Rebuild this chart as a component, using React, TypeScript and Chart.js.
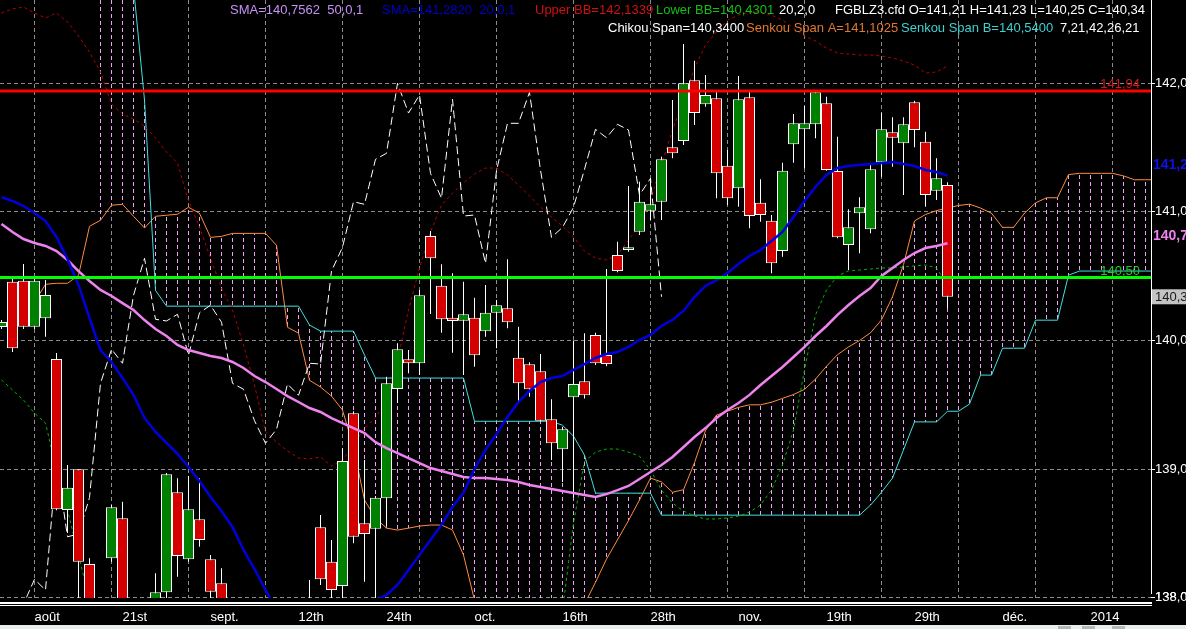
import React, { useEffect, useRef } from "react";
import { Chart, registerables } from "chart.js";

Chart.register(...registerables);

// ---------- data (slot -1 is the first element of every per-slot array) ----------
const FIRST_SLOT = -1;

const opens = [
  140.105, 140.457, 140.465, 140.107, 140.173, 139.856, 138.682, 138.998, 138.262, 137.90,
  138.306, 138.617, 137.95, 137.70, 137.85, 138.042, 138.820, 138.299, 138.610, 138.299,
  138.112, 137.90, 137.60, 137.70, 137.55, 137.40, 137.50, 137.70, 137.90, 138.547,
  138.280, 138.091, 139.434, 138.579, 138.537, 138.773, 139.623, 139.854, 139.823, 140.813,
  140.426, 140.177, 140.154, 140.177, 140.072, 140.216, 140.250, 139.866, 139.815, 139.760,
  139.387, 139.154, 139.558, 139.683, 140.043, 139.887, 140.665, 140.704, 140.846, 141.009,
  141.079, 141.502, 141.551, 142.023, 141.837, 141.883, 141.359, 141.184, 141.891, 141.072,
  140.932, 140.696, 141.526, 141.642, 141.681, 141.844, 141.318, 140.743, 140.989, 140.865,
  141.386, 141.619, 141.533, 141.852, 141.546, 141.165, 141.21,
];
const highs = [
  140.16, 140.486, 140.595, 140.48, 140.47, 139.903, 139.032, 139.0, 138.306, 137.97,
  138.72, 138.746, 137.98, 137.90, 138.19, 138.97, 138.928, 138.946, 138.928, 138.332,
  138.23, 137.95, 137.80, 137.90, 137.70, 137.60, 137.80, 137.95, 138.138, 138.643,
  138.449, 139.162, 139.45, 139.071, 138.79, 139.719, 139.978, 139.926, 140.393, 140.851,
  140.593, 140.523, 140.457, 140.333, 140.432, 140.315, 140.631, 140.107, 139.83, 139.895,
  139.543, 139.33, 140.0, 140.056, 140.06, 140.556, 140.768, 141.201, 141.235, 141.261,
  141.429, 141.87, 142.306, 142.176, 142.065, 141.948, 141.481, 142.057, 141.935, 141.254,
  140.976, 141.383, 141.761, 141.823, 141.935, 141.896, 141.585, 141.02, 141.114, 141.378,
  141.771, 141.736, 141.736, 141.865, 141.624, 141.417, 141.23,
];
const lows = [
  140.09, 139.911, 140.09, 140.09, 140.03, 138.68, 138.503, 137.95, 137.8, 137.55,
  138.28, 137.9, 137.6, 137.5, 137.8, 137.99, 138.163, 138.28, 138.397, 137.98,
  137.8, 137.5, 137.4, 137.5, 137.3, 137.3, 137.4, 137.6, 137.8, 138.099,
  137.97, 137.98, 138.423, 138.124, 137.99, 138.558, 139.514, 139.745, 139.732, 140.206,
  140.061, 139.905, 139.732, 139.796, 140.03, 139.939, 140.095, 139.512, 139.563, 139.37,
  139.071, 138.9, 138.78, 139.55, 139.81, 139.8, 140.53, 140.69, 140.82, 140.937,
  140.937, 141.417, 141.52, 141.676, 141.818, 141.106, 141.054, 141.04, 140.872, 140.924,
  140.523, 140.652, 141.383, 141.339, 141.572, 141.32, 140.795, 140.548, 140.678, 140.834,
  141.274, 141.351, 141.131, 141.502, 141.04, 141.093, 140.25,
];
const closes = [
  140.144, 139.939, 140.107, 140.465, 140.354, 138.687, 138.855, 138.28, 137.9, 137.65,
  138.703, 137.99, 137.7, 137.85, 138.042, 138.96, 138.324, 138.687, 138.449, 138.047,
  137.9, 137.6, 137.7, 137.55, 137.4, 137.5, 137.7, 137.9, 137.95, 138.143,
  138.06, 139.063, 138.474, 138.495, 138.778, 139.667, 139.932, 139.823, 140.351, 140.639,
  140.165, 140.152, 140.204, 139.885, 140.216, 140.274, 140.142, 139.667, 139.621, 139.376,
  139.201, 139.309, 139.662, 139.574, 139.823, 139.817, 140.54, 140.725, 141.079, 141.059,
  141.409, 141.456, 142.0, 141.769, 141.909, 141.3, 141.106, 141.876, 140.968, 140.976,
  140.6, 141.32, 141.689, 141.689, 141.93, 141.326, 140.802, 140.88, 141.036, 141.331,
  141.642, 141.577, 141.681, 141.637, 141.131, 141.261, 140.34,
];

const sma50 = [
  140.906, 140.844, 140.789, 140.758, 140.735, 140.696, 140.626, 140.540, 140.463, 140.393,
  140.346, 140.291, 140.237, 140.159, 140.089, 140.035, 139.965, 139.926, 139.903, 139.879,
  139.864, 139.833, 139.786, 139.724, 139.677, 139.623, 139.568, 139.522, 139.475, 139.444,
  139.397, 139.358, 139.319, 139.280, 139.210, 139.164, 139.125, 139.086, 139.047, 139.008,
  138.985, 138.962, 138.938, 138.931, 138.931, 138.923, 138.915, 138.900, 138.876, 138.861,
  138.845, 138.830, 138.814, 138.799, 138.783, 138.806, 138.837, 138.869, 138.923, 138.977,
  139.032, 139.094, 139.172, 139.250, 139.319, 139.397, 139.460, 139.514, 139.577, 139.654,
  139.724, 139.794, 139.872, 139.950, 140.035, 140.113, 140.199, 140.276, 140.346, 140.408,
  140.502, 140.564, 140.626, 140.680, 140.719, 140.735, 140.756,
];
const sma20 = [
  141.114, 141.085, 141.046, 140.992, 140.929, 140.805, 140.634, 140.432, 140.175, 139.926,
  139.833, 139.709, 139.577, 139.398, 139.289, 139.204, 139.118, 139.017, 138.907, 138.783,
  138.674, 138.550, 138.371, 138.223, 138.060, 137.904, 137.79, 137.71, 137.67, 137.67,
  137.71, 137.76, 137.84, 137.92, 137.98, 138.021, 138.099, 138.216, 138.333, 138.449,
  138.566, 138.706, 138.815, 139.001, 139.149, 139.273, 139.406, 139.522, 139.607, 139.677,
  139.708, 139.724, 139.771, 139.817, 139.864, 139.895, 139.911, 139.950, 140.004, 140.043,
  140.113, 140.160, 140.230, 140.339, 140.424, 140.470, 140.525, 140.595, 140.657, 140.704,
  140.774, 140.844, 140.961, 141.085, 141.194, 141.287, 141.341, 141.357, 141.365, 141.372,
  141.380, 141.388, 141.372, 141.357, 141.326, 141.310, 141.282,
];
const upperBB = [
  142.547, 142.578, 142.593, 142.547, 142.508, 142.547, 142.477, 142.368, 142.243, 142.088,
  141.839, 141.761, 141.722, 141.668, 141.575, 141.466, 141.380, 141.085, 140.883, 140.641,
  140.408, 140.237, 139.965, 139.654, 139.289, 139.211, 139.141, 139.087, 139.079, 139.094,
  139.024, 139.071, 139.187, 139.320, 139.397, 139.537, 139.848, 140.237, 140.563, 140.843,
  141.053, 141.147, 141.225, 141.295, 141.341, 141.341, 141.287, 141.209, 141.124, 141.038,
  140.960, 140.890, 140.805, 140.696, 140.641, 140.626, 140.665, 140.781, 140.898, 141.093,
  141.365, 141.637, 141.870, 142.119, 142.298, 142.399, 142.492, 142.531, 142.554, 142.554,
  142.531, 142.492, 142.430, 142.368, 142.329, 142.274, 142.236, 142.228, 142.220, 142.220,
  142.212, 142.197, 142.173, 142.142, 142.080, 142.088, 142.134,
];
const lowerBB = [
  139.694, 139.615, 139.537, 139.436, 139.358, 138.993, 138.682, 138.332, 137.98, 137.7,
  null, null, null, null, null, null, null, null, null, null,
  null, null, null, null, null, null, null, null, null, null,
  null, null, null, null, null, null, null, null, null, null,
  null, null, null, null, null, null, null, null, null, null,
  null, 137.9, 138.58, 139.06, 139.132, 139.156, 139.156, 139.132, 139.101, 138.993,
  138.837, 138.736, 138.674, 138.635, 138.612, 138.612, 138.620, 138.635, 138.666, 138.721,
  138.837, 139.032, 139.304, 139.771, 140.199, 140.393, 140.502, 140.541, 140.548, 140.556,
  140.564, 140.564, 140.572, 140.580, 140.587, 140.564, 140.430,
];
const senkouA = [
  140.118, 140.103, 140.173, 140.297, 140.437, 140.445, 140.445, 140.507, 140.888, 140.935,
  141.052, 141.059, 140.966, 140.875, 140.966, 140.974, 140.982, 141.036, 140.989, 140.802,
  140.810, 140.833, 140.833, 140.833, 140.833, 140.740, 140.103, 140.057, 139.691, 139.638,
  139.568, 139.459, 139.171, 138.759, 138.619, 138.541, 138.526, 138.541, 138.557, 138.565,
  138.565, 138.526, 138.332, 137.98, 137.80, 137.70, 137.62, 137.60, 137.60, 137.62,
  137.68, 137.75, 137.85, 137.95, 138.12, 138.30, 138.45, 138.60, 138.76, 138.93,
  138.90, 138.82, 138.84, 139.05, 139.30, 139.42, 139.45, 139.48, 139.50, 139.50,
  139.52, 139.55, 139.58, 139.62, 139.70, 139.80, 139.89, 139.95, 140.00, 140.06,
  140.16, 140.34, 140.59, 140.93, 140.98, 141.01, 141.03, 141.05, 141.06, 141.03,
  140.99, 140.88, 140.88, 140.99, 141.07, 141.11, 141.11, 141.29, 141.30, 141.30,
  141.30, 141.30, 141.28, 141.25, 141.25, 141.25,
];
const senkouB = [
  null, null, null, null, null, null, null, null, null, 143.5,
  143.5, 143.4, 142.75, 141.87, 140.39, 140.267, 140.267, 140.267, 140.267, 140.267,
  140.267, 140.267, 140.267, 140.267, 140.267, 140.267, 140.267, 140.267, 140.12, 140.073,
  140.073, 140.073, 140.073, 139.887, 139.708, 139.708, 139.708, 139.708, 139.708, 139.708,
  139.708, 139.708, 139.708, 139.372, 139.372, 139.372, 139.372, 139.372, 139.372, 139.372,
  139.372, 139.341, 139.256, 139.108, 138.813, 138.813, 138.813, 138.813, 138.813, 138.813,
  138.642, 138.642, 138.642, 138.642, 138.642, 138.642, 138.642, 138.642, 138.642, 138.642,
  138.642, 138.642, 138.642, 138.642, 138.642, 138.642, 138.642, 138.642, 138.642, 138.72,
  138.82, 138.93, 139.15, 139.367, 139.367, 139.367, 139.45, 139.45, 139.506, 139.731,
  139.731, 139.94, 139.94, 139.94, 140.158, 140.158, 140.158, 140.508, 140.54, 140.54,
  140.54, 140.54, 140.54, 140.54, 140.54, 140.54,
];
const CHIKOU_SHIFT = 26;

const resistanceLevel = 141.94;
const supportLevel = 140.49;
const resistanceText = "141,94";
const supportText = "140,50";

const priceTicks = [138, 139, 140, 141, 142];
const priceTickLabels = ["138,0", "139,0", "140,0", "141,0", "142,0"];
const gridSlots = [2, 9, 16, 23, 30, 37, 44, 51, 58, 65, 72, 79, 86, 93, 100];
const dateSlots = [2, 10, 18, 26, 34, 42, 50, 58, 66, 74, 82, 90, 98];
const dateLabels = ["août", "21st", "sept.", "12th", "24th", "oct.", "16th", "28th", "nov.", "19th", "29th", "déc.", "2014"];

const tagTexts = ["141,2", "140,7", "140,34"];
const tagValues = [141.36, 140.81, 140.34];

const legendRow1 = ["SMA=140,7562  50,0,1", "SMA=141,2820  20,0,1", "Upper BB=142,1339", "Lower BB=140,4301", "20,2,0", "FGBLZ3.cfd O=141,21 H=141,23 L=140,25 C=140,34"];
const legendRow2 = ["Chikou Span=140,3400", "Senkou Span A=141,1025", "Senkou Span B=140,5400", "7,21,42,26,21"];

// ---------- layout / style ----------
const W = 1186;
const H = 629;
const PLOT_RIGHT = 1151;
const PLOT_BOTTOM = 598;
const SLOT_PX = 11;
const FIRST_CENTER_PX = 12.5;
const X_MIN = -FIRST_CENTER_PX / SLOT_PX;
const X_MAX = (PLOT_RIGHT - FIRST_CENTER_PX) / SLOT_PX;
const Y_MAX = 142.6478;
const Y_MIN = 137.9977;

const FONT = '"Liberation Sans", Arial, sans-serif';
const legendRow1Colors = ["#c890f8", "#0000c8", "#d01010", "#10c010", "#ffffff", "#ffffff"];
const legendRow1X = [230, 382, 535, 656, 779, 835];
const legendRow2Colors = ["#ffffff", "#e07830", "#40d0d0", "#ffffff"];
const legendRow2X = [608, 746, 901, 1060];
const tagColors = ["#1010e8", "#f080f0", "#1a1a1a"];

const UP = "#008000";
const DOWN = "#d40000";
const CLOUD = "#f0a0f0";

export default function App() {
  const ref = useRef<HTMLCanvasElement | null>(null);

  useEffect(() => {
    document.body.style.margin = "0";
    document.body.style.background = "#000";
    const canvas = ref.current!;

    const pc = document.createElement("canvas");
    pc.width = 1;
    pc.height = 7;
    const pctx = pc.getContext("2d")!;
    pctx.fillStyle = CLOUD;
    pctx.fillRect(0, 0, 1, 4);
    const cloudPattern = canvas.getContext("2d")!.createPattern(pc, "repeat");

    const slot = (k: number) => FIRST_SLOT + k;

    const bodies = opens.map((o, k) => ({ x: slot(k), y: [o, closes[k]] }));
    const bodyColors = opens.map((o, k) => (closes[k] >= o ? UP : DOWN));
    const wicks = lows.map((l, k) => ({ x: slot(k), y: [l, highs[k]] }));
    const cloud: { x: number; y: number[] }[] = [];
    senkouA.forEach((a, k) => {
      const b = senkouB[k];
      if (a !== null && b !== null) cloud.push({ x: slot(k), y: [a, b] });
    });
    const chikou = closes.slice(CHIKOU_SHIFT).map((c, k) => ({ x: slot(k), y: c }));

    const series = (values: (number | null)[]) => values.map((v, k) => ({ x: slot(k), y: v }));
    const line = (data: any[], color: string, width: number, dash: number[], order: number) => ({
      type: "line" as const,
      data,
      borderColor: color,
      borderWidth: width,
      borderDash: dash,
      pointRadius: 0,
      pointHoverRadius: 0,
      fill: false,
      tension: 0,
      spanGaps: false,
      order,
    });
    const level = (v: number) => [
      { x: X_MIN, y: v },
      { x: X_MAX, y: v },
    ];

    const overlay = {
      id: "overlay",
      beforeDraw(chart: any) {
        const c = chart.ctx;
        c.save();
        c.fillStyle = "#000";
        c.fillRect(0, 0, W, H);
        c.restore();
      },
      beforeDatasetsDraw(chart: any) {
        const c = chart.ctx;
        const xs = chart.scales.x;
        const ys = chart.scales.y;
        const a = chart.chartArea;
        c.save();
        c.strokeStyle = "#8c8c8c";
        c.lineWidth = 1;
        c.setLineDash([4, 3]);
        priceTicks.forEach((v) => {
          const y = Math.floor(ys.getPixelForValue(v)) + 0.5;
          c.beginPath();
          c.moveTo(a.left, y);
          c.lineTo(a.right, y);
          c.stroke();
        });
        gridSlots.forEach((s) => {
          const x = xs.getPixelForValue(s);
          c.beginPath();
          c.moveTo(x, a.top);
          c.lineTo(x, a.bottom);
          c.stroke();
        });
        c.restore();
      },
      afterDraw(chart: any) {
        const c = chart.ctx;
        const xs = chart.scales.x;
        const ys = chart.scales.y;
        c.save();
        // right axis
        c.fillStyle = "#ffffff";
        c.fillRect(PLOT_RIGHT, 0, 1, PLOT_BOTTOM - 4);
        c.font = `13px ${FONT}`;
        c.textBaseline = "middle";
        c.textAlign = "left";
        priceTicks.forEach((v, i) => {
          const y = Math.floor(ys.getPixelForValue(v));
          c.fillStyle = "#ffffff";
          c.fillRect(PLOT_RIGHT, y, 4, 1);
          c.fillText(priceTickLabels[i], PLOT_RIGHT + 4, y + 0.5);
        });
        // value tags
        tagTexts.forEach((t, i) => {
          const y = ys.getPixelForValue(tagValues[i]);
          if (i === 2) {
            c.fillStyle = "#c4c4c4";
            c.fillRect(PLOT_RIGHT + 1, y - 7.5, W - PLOT_RIGHT, 15);
            c.font = `13px ${FONT}`;
            c.fillStyle = tagColors[i];
            c.fillText(t, PLOT_RIGHT + 4, y + 0.5);
          } else {
            c.font = `bold 14px ${FONT}`;
            c.fillStyle = tagColors[i];
            c.fillText(t, PLOT_RIGHT + 2, y);
          }
        });
        // level labels
        c.font = `13px ${FONT}`;
        c.textAlign = "right";
        c.textBaseline = "alphabetic";
        c.fillStyle = "#d01818";
        c.fillText(resistanceText, 1140, ys.getPixelForValue(resistanceLevel) - 3);
        c.fillStyle = "#20d020";
        c.fillText(supportText, 1140, ys.getPixelForValue(supportLevel) - 2);
        // bottom band
        c.fillStyle = "#000";
        c.fillRect(0, PLOT_BOTTOM, W, H - PLOT_BOTTOM);
        c.fillStyle = "#ffffff";
        c.fillRect(0, 602, PLOT_RIGHT + 1, 2);
        c.fillRect(0, 605, PLOT_RIGHT + 1, 1);
        // redraw bottom axis label under right axis
        c.font = `13px ${FONT}`;
        c.textAlign = "left";
        c.textBaseline = "middle";
        c.fillText(priceTickLabels[0], PLOT_RIGHT + 4, Math.floor(ys.getPixelForValue(priceTicks[0])) + 0.5);
        c.textBaseline = "alphabetic";
        dateLabels.forEach((d, i) => {
          c.fillText(d, xs.getPixelForValue(dateSlots[i]), 621);
        });
        c.fillStyle = "#e8eeee";
        c.fillRect(0, 625, W, H - 625);
        c.fillStyle = "#b4b8b8";
        [1058, 1082, 1112].forEach((bx) => c.fillRect(bx, 626, 13, 3));
        // legend
        c.font = `13px ${FONT}`;
        c.textAlign = "left";
        legendRow1.forEach((t, i) => {
          c.fillStyle = legendRow1Colors[i];
          c.fillText(t, legendRow1X[i], 14);
        });
        legendRow2.forEach((t, i) => {
          c.fillStyle = legendRow2Colors[i];
          c.fillText(t, legendRow2X[i], 32);
        });
        c.restore();
      },
    };

    const chart = new Chart(canvas, {
      type: "line",
      data: {
        datasets: [
          {
            type: "bar",
            data: cloud,
            backgroundColor: cloudPattern as any,
            borderWidth: 0,
            barThickness: 1,
            maxBarThickness: 1,
            grouped: false,
            inflateAmount: 0,
            order: 20,
          } as any,
          line(series(senkouA), "#ff8c40", 1, [], 18),
          line(series(senkouB), "#40e0e0", 1, [], 17),
          line(series(upperBB), "#b40000", 1, [3, 3], 16),
          line(series(lowerBB), "#00b400", 1, [3, 3], 15),
          line(chikou, "#ffffff", 1, [8, 4], 14),
          {
            type: "bar",
            data: wicks,
            backgroundColor: "#ffffff",
            borderWidth: 0,
            barThickness: 1,
            maxBarThickness: 1,
            grouped: false,
            inflateAmount: 0,
            order: 6,
          } as any,
          {
            type: "bar",
            data: bodies,
            backgroundColor: bodyColors,
            borderColor: "#ffffff",
            borderWidth: 1,
            borderSkipped: false,
            barThickness: 11,
            maxBarThickness: 11,
            grouped: false,
            inflateAmount: 0,
            order: 5,
          } as any,
          line(series(sma50), "#ee82ee", 2.5, [], 4),
          line(series(sma20), "#0000dd", 2.5, [], 3),
          line(level(resistanceLevel), "#ff0000", 3, [], 1),
          line(level(supportLevel), "#00ff00", 3, [], 0),
        ] as any,
      },
      options: {
        responsive: false,
        animation: false,
        devicePixelRatio: 1,
        events: [],
        layout: { padding: { left: 0, top: 0, right: W - PLOT_RIGHT, bottom: H - PLOT_BOTTOM } },
        plugins: { legend: { display: false }, tooltip: { enabled: false } },
        scales: {
          x: { type: "linear", min: X_MIN, max: X_MAX, offset: false, display: false },
          y: { type: "linear", min: Y_MIN, max: Y_MAX, display: false },
        },
      } as any,
      plugins: [overlay],
    });
    return () => chart.destroy();
  }, []);

  return (
    <div style={{ position: "fixed", left: 0, top: 0, width: W, height: H, background: "#000" }}>
      <canvas ref={ref} width={W} height={H} style={{ display: "block", width: W, height: H }} />
    </div>
  );
}
